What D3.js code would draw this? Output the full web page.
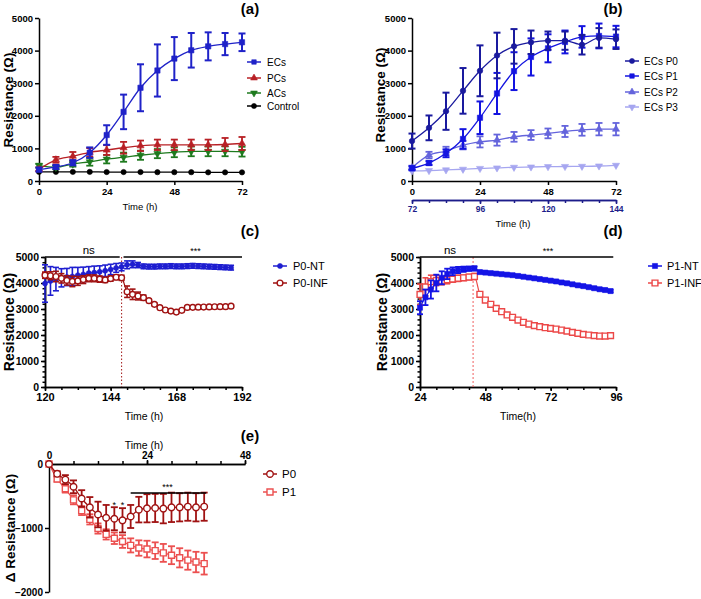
<!DOCTYPE html>
<html><head><meta charset="utf-8">
<script src="https://cdn.jsdelivr.net/npm/d3@7/dist/d3.min.js"></script>
<style>body{margin:0;background:#fff}</style>
</head><body>
<script>
// ---------- DATA ----------
// (a)
const timeA = [0,6,12,18,24,30,36,42,48,54,60,66,72];
const ecsA    = [350,430,560,870,1410,2120,2860,3390,3755,4010,4130,4200,4255];
const ecsAErr = [60,60,80,160,300,530,720,800,660,530,430,340,270];
const pcsA    = [360,650,760,880,950,1020,1080,1110,1110,1110,1110,1120,1150];
const pcsAErr = [60,90,130,130,150,180,160,160,160,160,160,200,200];
const acsA    = [470,420,520,590,670,730,790,840,880,910,910,910,900];
const acsAErr = [60,60,80,120,130,140,140,140,150,150,150,150,150];
const ctrlA   = [280,280,280,280,275,275,275,270,270,270,265,265,265];
const legendA = ["ECs","PCs","ACs","Control"];
const ticksY = [0,1000,2000,3000,4000,5000];
// (b)
const timeB = [0,6,12,18,24,30,36,42,48,54,60,66,72];
const p0B    = [1225,1630,2140,2765,3380,3850,4130,4255,4305,4305,4180,4390,4350];
const p0BErr = [230,380,570,700,780,700,530,360,280,280,300,300,300];
const p1B    = [390,550,850,1290,1940,2685,3370,3805,4070,4265,4420,4450,4430];
const p1BErr = [60,60,120,300,500,630,580,570,430,350,330,380,330];
const p2B    = [410,795,920,1100,1200,1255,1355,1410,1460,1520,1570,1590,1590];
const p2BErr = [60,100,130,130,170,170,150,150,150,170,180,190,190];
const p3B    = [310,320,340,360,385,400,420,430,440,445,450,460,480];
const legendB = ["ECs P0","ECs P1","ECs P2","ECs P3"];
const ticksB1 = [0,24,48,72];
const ticksB2 = [72,96,120,144];
// (c)
const timeC = [120,122,124,126,128,130,132,134,136,138,140,142,144,146,148,150,152,154,156,158,160,162,164,166,168,170,172,174,176,178,180,182,184,186,188];
const ntC    = [3980,4080,4150,4200,4230,4250,4300,4330,4380,4400,4430,4470,4520,4580,4620,4700,4720,4690,4640,4630,4630,4640,4640,4650,4640,4640,4650,4660,4650,4640,4630,4620,4610,4600,4590];
const ntCErr = [720,550,450,350,330,350,300,280,250,250,230,220,200,170,150,150,130,100,90,90,90,90,90,90,90,90,90,90,90,90,90,90,90,90,90];
const infC    = [4300,4280,4250,4180,4100,4060,4080,4130,4180,4180,4150,4120,4170,4220,4200,3665,3565,3500,3435,3320,3180,3050,2960,2920,2880,2950,3060,3065,3070,3075,3080,3085,3090,3090,3110];
const infCErr = [120,150,200,180,180,200,170,150,130,130,120,100,100,90,100,220,200,150,100,60,50,40,40,40,40,40,40,40,40,40,40,40,40,40,40];
const legendC = ["P0-NT","P0-INF"];
const treatC = 148;
// (d)
const timeD = [24,26,28,30,32,34,36,38,40,42,44,46,48,50,52,54,56,58,60,62,64,66,68,70,72,74,76,78,80,82,84,86,88,90,92,94];
const ntD    = [3050,3450,3750,4000,4200,4350,4450,4500,4530,4550,4560,4420,4400,4380,4360,4340,4320,4300,4270,4240,4210,4180,4150,4120,4090,4060,4020,3990,3950,3910,3880,3840,3800,3760,3730,3690];
const ntDErr = [250,300,350,320,250,200,150,120,100,80,80,50,50,50,50,50,50,50,50,50,50,50,50,50,50,50,50,50,50,50,50,50,50,50,50,50];
const infD    = [3560,3850,4050,4100,4080,4120,4150,4180,4200,4230,4250,3565,3345,3180,3025,2897,2770,2680,2575,2490,2420,2360,2320,2280,2255,2230,2190,2150,2100,2065,2025,2000,1975,1960,1960,1975];
const infDErr = [400,350,250,200,150,150,120,120,100,100,120,80,70,70,70,70,70,70,70,70,70,70,70,70,70,70,70,70,70,70,70,70,80,80,80,80];
const legendD = ["P1-NT","P1-INF"];
const treatD = 43.5;
// (e)
const timeE = [0,2,4,6,8,10,12,14,16,18,20,22,24,26,28,30,32,34,36,38];
const p0E    = [0,-153,-244,-356,-539,-677,-789,-840,-855,-880,-820,-713,-692,-687,-697,-677,-677,-667,-677,-667];
const p0EErr = [0,40,70,100,130,160,200,200,180,190,180,200,220,220,230,230,220,220,220,220];
const p1E    = [0,-234,-387,-560,-728,-865,-1008,-1100,-1160,-1211,-1272,-1313,-1329,-1354,-1389,-1425,-1466,-1502,-1532,-1557];
const p1EErr = [0,40,60,70,70,80,80,80,90,100,110,120,130,130,140,140,150,150,160,170];
const legendE = ["P0","P1"];
const starsE = [16,18];

// ---------- DRAWING ----------
const F = "'Liberation Sans', Arial, Helvetica, sans-serif";
const fmt = d3.format("d");
const svg = d3.select("body").append("svg").attr("width",701).attr("height",599);

function styleAxis(sel, size, color, bold=true){
  sel.selectAll("text").attr("font-family",F).attr("font-weight",bold?"bold":"normal").attr("font-size",size).attr("fill",color||"#000");
  sel.selectAll("line,path").attr("stroke",color||"#000").attr("stroke-width",1.5);
}
function txt(x,y,s,size,opt={}){
  const t = svg.append("text").attr("x",x).attr("y",y).text(s).attr("font-family",F).attr("font-size",size)
    .attr("font-weight",opt.bold?"bold":"normal").attr("text-anchor",opt.anchor||"middle").attr("fill",opt.color||"#000");
  if(opt.rot) t.attr("transform",`rotate(-90,${x},${y})`);
  return t;
}
function drawSeries(x,y,xs,vs,es,st){
  const g = svg.append("g");
  const line = d3.line().x((d,i)=>x(xs[i])).y(d=>y(d)).curve(st.curve||d3.curveMonotoneX);
  g.append("path").attr("d",line(vs)).attr("fill","none").attr("stroke",st.color).attr("stroke-width",st.lw||1.3);
  const cap = st.cap||3.5;
  if(es) vs.forEach((v,i)=>{
    const e = es[i]; if(!e) return;
    const cx = x(xs[i]), yt=y(v+e), yb=y(v-e);
    g.append("line").attr("x1",cx).attr("x2",cx).attr("y1",yt).attr("y2",yb).attr("stroke",st.color).attr("stroke-width",st.ew||1.8);
    [yt,yb].forEach(yy=>g.append("line").attr("x1",cx-cap).attr("x2",cx+cap).attr("y1",yy).attr("y2",yy).attr("stroke",st.color).attr("stroke-width",st.ew||1.8));
  });
  g.selectAll(null).data(vs).join("path")
    .attr("d",d3.symbol().type(st.sym).size(st.size||30))
    .attr("transform",(d,i)=>`translate(${x(xs[i])},${y(d)}) rotate(${st.rot||0})`)
    .attr("fill",st.hollow?"#fff":st.color).attr("stroke",st.color).attr("stroke-width",st.hollow?1.4:0.6);
}
function legend(items, mx, tx, ys, size, msize){
  items.forEach((it,i)=>{
    const yy = ys[i];
    svg.append("line").attr("x1",mx-7).attr("x2",mx+7).attr("y1",yy).attr("y2",yy).attr("stroke",it.st.color).attr("stroke-width",1.5);
    svg.append("path").attr("d",d3.symbol().type(it.st.sym).size(msize||it.st.size||30)())
      .attr("transform",`translate(${mx},${yy}) rotate(${it.st.rot||0})`)
      .attr("fill",it.st.hollow?"#fff":it.st.color).attr("stroke",it.st.color).attr("stroke-width",it.st.hollow?1.4:0.6);
    txt(tx,yy+3.5,it.name,size,{anchor:"start"});
  });
}

// ===== Panel (a) =====
{
  const x = d3.scaleLinear().domain([0,72]).range([39,242]);
  const y = d3.scaleLinear().domain([0,5000]).range([181,18]);
  const ga = svg.append("g").attr("transform","translate(0,181)").call(d3.axisBottom(x).tickValues(ticksB1).tickSize(4).tickSizeOuter(0).tickPadding(3));
  styleAxis(ga,9.5);
  const gy = svg.append("g").attr("transform","translate(39,0)").call(d3.axisLeft(y).tickValues(ticksY).tickFormat(fmt).tickSize(4).tickSizeOuter(0).tickPadding(2));
  styleAxis(gy,9.5);
  const stC = {color:"#000",sym:d3.symbolCircle,size:22};
  const stA = {color:"#1e7a1e",sym:d3.symbolTriangle,rot:180,size:22};
  const stP = {color:"#b82025",sym:d3.symbolTriangle,size:22};
  const stE = {color:"#1f22c8",sym:d3.symbolSquare,size:28,lw:1.3,ew:2};
  drawSeries(x,y,timeA,ctrlA,null,stC);
  drawSeries(x,y,timeA,acsA,acsAErr,stA);
  drawSeries(x,y,timeA,pcsA,pcsAErr,stP);
  drawSeries(x,y,timeA,ecsA,ecsAErr,stE);
  legend([{name:legendA[0],st:stE},{name:legendA[1],st:stP},{name:legendA[2],st:stA},{name:legendA[3],st:stC}],254,267,[62,78,93,106],10,20);
  txt(13,100,"Resistance (Ω)",13.5,{bold:true,rot:true});
  txt(140,210,"Time (h)",9.5);
  txt(250,14,"(a)",15,{bold:true});
}

// ===== Panel (b) =====
{
  const x = d3.scaleLinear().domain([0,72]).range([412,616]);
  const x2 = d3.scaleLinear().domain([72,144]).range([412,616]);
  const y = d3.scaleLinear().domain([0,5000]).range([181,18]);
  const ga = svg.append("g").attr("transform","translate(0,181)").call(d3.axisBottom(x).tickValues(ticksB1).tickSize(4).tickSizeOuter(0).tickPadding(3));
  styleAxis(ga,9.5);
  const navy = "#1c1c8a";
  const gm = svg.append("g").attr("transform","translate(0,200)").call(d3.axisBottom(x2).tickValues(d3.range(72,145,6)).tickSize(3).tickSizeOuter(0).tickFormat(""));
  styleAxis(gm,8.5,navy);
  const g2 = svg.append("g").attr("transform","translate(0,200)").call(d3.axisBottom(x2).tickValues(ticksB2).tickSize(4).tickSizeOuter(0).tickPadding(2));
  styleAxis(g2,8.5,navy);
  const gy = svg.append("g").attr("transform","translate(412,0)").call(d3.axisLeft(y).tickValues(ticksY).tickFormat(fmt).tickSize(4).tickSizeOuter(0).tickPadding(2));
  styleAxis(gy,9.5);
  const s0 = {color:"#1a1a9e",sym:d3.symbolCircle,size:24,ew:2};
  const s1 = {color:"#1414e0",sym:d3.symbolSquare,size:28,ew:2};
  const s2 = {color:"#6464dc",sym:d3.symbolTriangle,size:22};
  const s3 = {color:"#a6a6f0",sym:d3.symbolTriangle,rot:180,size:22};
  drawSeries(x,y,timeB,p3B,null,s3);
  drawSeries(x,y,timeB,p2B,p2BErr,s2);
  drawSeries(x,y,timeB,p1B,p1BErr,s1);
  drawSeries(x,y,timeB,p0B,p0BErr,s0);
  legend([{name:legendB[0],st:s0},{name:legendB[1],st:s1},{name:legendB[2],st:s2},{name:legendB[3],st:s3}],632,644,[61,76,92,107],10,20);
  txt(385,95,"Resistance (Ω)",13.5,{bold:true,rot:true});
  txt(513,227,"Time (h)",9.5);
  txt(613,14,"(b)",15,{bold:true});
}

// ===== Panel (c) =====
{
  const x = d3.scaleLinear().domain([120,192]).range([45,242]);
  const y = d3.scaleLinear().domain([0,5000]).range([387,257]);
  const gm = svg.append("g").attr("transform","translate(0,387)").call(d3.axisBottom(x).tickValues(d3.range(120,193,6)).tickSize(3).tickSizeOuter(0).tickFormat(""));
  styleAxis(gm,11);
  const ga = svg.append("g").attr("transform","translate(0,387)").call(d3.axisBottom(x).tickValues([120,144,168,192]).tickSize(4).tickSizeOuter(0).tickPadding(2));
  styleAxis(ga,11);
  const gym = svg.append("g").attr("transform","translate(45,0)").call(d3.axisLeft(y).tickValues(d3.range(0,5001,200)).tickSize(2.5).tickSizeOuter(0).tickFormat(""));
  styleAxis(gym,11);
  const gy = svg.append("g").attr("transform","translate(45,0)").call(d3.axisLeft(y).tickValues(ticksY).tickFormat(fmt).tickSize(4).tickSizeOuter(0).tickPadding(2));
  styleAxis(gy,10.5);
  svg.append("line").attr("x1",x(treatC)).attr("x2",x(treatC)).attr("y1",y(5000)).attr("y2",y(0)).attr("stroke","#a01515").attr("stroke-width",1).attr("stroke-dasharray","1.5,2");
  const sN = {color:"#1e1ed0",sym:d3.symbolCircle,size:20,ew:1.6,cap:3,lw:1.2};
  const sI = {color:"#a01212",sym:d3.symbolCircle,size:26,hollow:true,ew:1.6,cap:3,lw:1.2};
  drawSeries(x,y,timeC,ntC,ntCErr,sN);
  drawSeries(x,y,timeC,infC,infCErr,sI);
  svg.append("line").attr("x1",x(120)).attr("x2",x(147.3)).attr("y1",y(5000)).attr("y2",y(5000)).attr("stroke","#000").attr("stroke-width",1.5);
  svg.append("line").attr("x1",x(148.7)).attr("x2",x(192)).attr("y1",y(5000)).attr("y2",y(5000)).attr("stroke","#000").attr("stroke-width",1.5);
  txt(x(136),254,"ns",11.5);
  txt(x(175),254,"***",9);
  legend([{name:legendC[0],st:sN},{name:legendC[1],st:sI}],280,293,[266,283],11);
  txt(14,322,"Resistance (Ω)",14,{bold:true,rot:true});
  txt(144,420,"Time (h)",10.5);
  txt(250,236,"(c)",15,{bold:true});
}

// ===== Panel (d) =====
{
  const x = d3.scaleLinear().domain([24,96]).range([420,616]);
  const y = d3.scaleLinear().domain([0,5000]).range([387,257]);
  const gm = svg.append("g").attr("transform","translate(0,387)").call(d3.axisBottom(x).tickValues(d3.range(24,97,6)).tickSize(3).tickSizeOuter(0).tickFormat(""));
  styleAxis(gm,11);
  const ga = svg.append("g").attr("transform","translate(0,387)").call(d3.axisBottom(x).tickValues([24,48,72,96]).tickSize(4).tickSizeOuter(0).tickPadding(2));
  styleAxis(ga,11);
  const gym = svg.append("g").attr("transform","translate(420,0)").call(d3.axisLeft(y).tickValues(d3.range(0,5001,200)).tickSize(2.5).tickSizeOuter(0).tickFormat(""));
  styleAxis(gym,11);
  const gy = svg.append("g").attr("transform","translate(420,0)").call(d3.axisLeft(y).tickValues(ticksY).tickFormat(fmt).tickSize(4).tickSizeOuter(0).tickPadding(2));
  styleAxis(gy,10.5);
  svg.append("line").attr("x1",x(treatD)).attr("x2",x(treatD)).attr("y1",y(5000)).attr("y2",y(0)).attr("stroke","#f06060").attr("stroke-width",1).attr("stroke-dasharray","2,2");
  const sN = {color:"#1414e6",sym:d3.symbolSquare,size:26,ew:1.8,cap:3,lw:1.2};
  const sI = {color:"#ec4848",sym:d3.symbolSquare,size:34,hollow:true,ew:1.6,cap:3,lw:1.2};
  drawSeries(x,y,timeD,infD,infDErr,sI);
  drawSeries(x,y,timeD,ntD,ntDErr,sN);
  svg.append("line").attr("x1",x(24)).attr("x2",x(95)).attr("y1",y(5000)).attr("y2",y(5000)).attr("stroke","#000").attr("stroke-width",1.5);
  txt(450,254,"ns",11.5);
  txt(548,254,"***",9);
  legend([{name:legendD[0],st:sN},{name:legendD[1],st:sI}],655,667,[266,283],11);
  txt(387,322,"Resistance (Ω)",14,{bold:true,rot:true});
  txt(518,420,"Time(h)",10.5);
  txt(613,236,"(d)",15,{bold:true});
}

// ===== Panel (e) =====
{
  const x = d3.scaleLinear().domain([0,48]).range([49,245]);
  const y = d3.scaleLinear().domain([-2000,0]).range([592,464]);
  const gm = svg.append("g").attr("transform","translate(0,464)").call(d3.axisTop(x).tickValues(d3.range(0,49,6)).tickSize(3).tickSizeOuter(0).tickFormat(""));
  styleAxis(gm,10);
  const ga = svg.append("g").attr("transform","translate(0,464)").call(d3.axisTop(x).tickValues([0,24,48]).tickSize(4).tickSizeOuter(0).tickPadding(1));
  styleAxis(ga,10);
  const gy = svg.append("g").attr("transform","translate(49,0)").call(d3.axisLeft(y).tickValues([0,-1000,-2000]).tickFormat(fmt).tickSize(4).tickSizeOuter(0).tickPadding(2));
  styleAxis(gy,10);
  const s0 = {color:"#a01212",sym:d3.symbolCircle,size:34,hollow:true,ew:1.8,cap:3.5,lw:1.3};
  const s1 = {color:"#ec5050",sym:d3.symbolSquare,size:36,hollow:true,ew:1.8,cap:3.5,lw:1.3};
  drawSeries(x,y,timeE,p1E,p1EErr,s1);
  drawSeries(x,y,timeE,p0E,p0EErr,s0);
  starsE.forEach(t=>txt(x(t),508,"*",9));
  svg.append("line").attr("x1",x(20)).attr("x2",x(38.5)).attr("y1",493).attr("y2",493).attr("stroke","#000").attr("stroke-width",1.5);
  txt(x(29),490,"***",9);
  legend([{name:legendE[0],st:s0},{name:legendE[1],st:s1}],270,282,[474,492],11.5);
  txt(15,528,"Δ Resistance (Ω)",13.5,{bold:true,rot:true});
  txt(144,449,"Time (h)",10.5);
  txt(250,441,"(e)",15,{bold:true});
}
</script>
</body></html>
